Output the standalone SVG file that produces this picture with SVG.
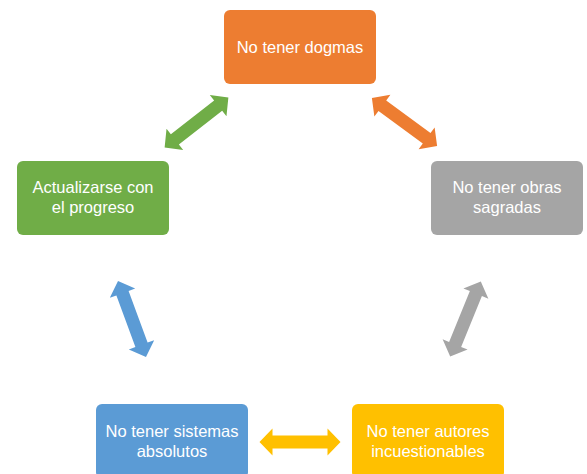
<svg xmlns="http://www.w3.org/2000/svg" width="587" height="474" viewBox="0 0 587 474">
  <style>
    .lbl { font-family: "Liberation Sans", Arial, sans-serif; font-size: 16.5px; fill: #ffffff; text-anchor: middle; }
  </style>
  <defs>
    <path id="dbl" d="M-40.5,0 L-27.5,-13.5 L-27.5,-6.5 L27.5,-6.5 L27.5,-13.5 L40.5,0 L27.5,13.5 L27.5,6.5 L-27.5,6.5 L-27.5,13.5 Z"/>
  </defs>
  <rect width="587" height="474" fill="#ffffff"/>
  <g id="connectors">
    <use href="#dbl" fill="#70AD47" transform="translate(196.5,122.5) rotate(-38.1)"/>
    <use href="#dbl" fill="#ED7D31" transform="translate(404.5,122) rotate(36.4)"/>
    <use href="#dbl" fill="#A5A5A5" transform="translate(465.5,319) rotate(112.2)"/>
    <use href="#dbl" fill="#FFC000" transform="translate(300,442)"/>
    <use href="#dbl" fill="#5B9BD5" transform="translate(132,319) rotate(69.8)"/>
  </g>
  <g id="dogmas">
    <rect x="224" y="10" width="152" height="74" rx="6" fill="#ED7D31"/>
    <text class="lbl" x="300" y="53">No tener dogmas</text>
  </g>
  <g id="obras">
    <rect x="431" y="161" width="152" height="74" rx="6" fill="#A5A5A5"/>
    <text class="lbl" x="507" y="193">No tener obras</text>
    <text class="lbl" x="507" y="213">sagradas</text>
  </g>
  <g id="autores">
    <rect x="352" y="404" width="152" height="74" rx="6" fill="#FFC000"/>
    <text class="lbl" x="428" y="437">No tener autores</text>
    <text class="lbl" x="428" y="457">incuestionables</text>
  </g>
  <g id="sistemas">
    <rect x="96" y="404" width="152" height="74" rx="6" fill="#5B9BD5"/>
    <text class="lbl" x="172" y="437">No tener sistemas</text>
    <text class="lbl" x="172" y="457">absolutos</text>
  </g>
  <g id="progreso">
    <rect x="17" y="161" width="152" height="74" rx="6" fill="#70AD47"/>
    <text class="lbl" x="93" y="193">Actualizarse con</text>
    <text class="lbl" x="93" y="213">el progreso</text>
  </g>
</svg>
